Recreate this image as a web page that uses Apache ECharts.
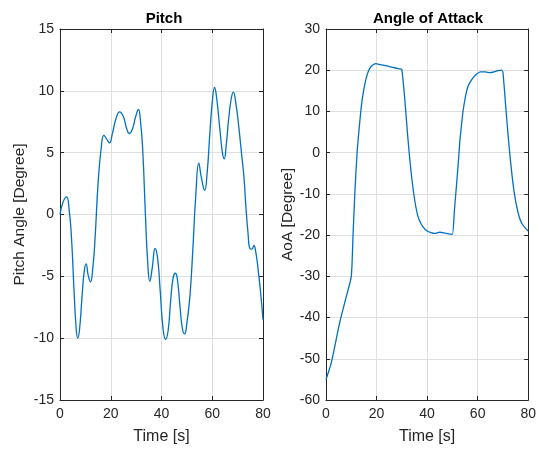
<!DOCTYPE html>
<html>
<head>
<meta charset="utf-8">
<title>Pitch and Angle of Attack</title>
<script src="https://cdn.jsdelivr.net/npm/echarts@6/dist/echarts.min.js"></script>
<style>
  html, body { margin: 0; padding: 0; background: #ffffff; }
  #chart { width: 539px; height: 453px; }
</style>
</head>
<body>
<div id="chart"></div>
<script>
// Time axis ticks (seconds)
const timeTicks = [0, 20, 40, 60, 80];

// Pitch angle [deg] sampled at the times below
const pitchTime = [
  0, 1.2, 2.6, 3.6, 4.5, 5.5, 6.3, 7.0, 7.7, 8.7, 9.6, 10.3, 11.1, 12.0, 12.9, 13.8,
  15.0, 16.3, 17.3, 18.4, 19.5, 20.6, 22.0, 23.5, 25.0, 26.2, 27.3, 28.5, 29.8, 30.9,
  31.7, 32.6, 33.7, 34.6, 35.4, 36.3, 37.5, 38.5, 39.5, 40.6, 41.6, 42.6, 43.6, 44.6,
  45.5, 46.4, 47.4, 48.3, 49.1, 50.0, 51.2, 52.3, 53.5, 54.7, 55.7, 57.0, 58.0, 59.0,
  60.1, 60.9, 61.8, 63.0, 64.0, 64.7, 65.5, 66.5, 67.5, 68.3, 69.3, 70.5, 71.5, 72.5,
  73.3, 74.1, 74.8, 75.6, 76.4, 77.2, 78.0, 79.0, 80.0
];
const pitchValue = [
  0.0, 1.0, 1.42, 0.4, -1.8, -6.0, -9.0, -10.0, -9.3, -6.6, -4.5, -4.0, -4.9, -5.45, -4.4, -2.0,
  2.5, 5.5, 6.4, 6.1, 5.8, 6.5, 7.7, 8.3, 7.9, 7.0, 6.55, 6.9, 7.9, 8.5,
  7.6, 5.2, -0.2, -4.0, -5.4, -4.4, -2.75, -3.6, -6.2, -9.2, -10.1, -9.4, -7.0, -5.1,
  -4.75, -5.5, -7.7, -9.3, -9.65, -8.8, -6.6, -3.0, 1.5, 4.15, 3.0, 1.96, 3.4, 6.4,
  9.3, 10.27, 9.3, 6.9, 5.0, 4.5, 5.6, 7.8, 9.4, 9.9, 9.0, 7.0, 5.0, 3.0,
  0.5, -1.5, -2.75, -2.8, -2.5, -3.1, -4.3, -6.2, -8.5
];

// Angle of attack [deg] sampled at the times below
const aoaTime = [
  0, 1.0, 2.2, 5.5, 8.0, 10.0, 10.7, 11.4, 12.3, 13.6, 14.3, 15.1, 15.9, 16.8, 17.8,
  18.8, 19.8, 21.0, 23.0, 25.0, 27.0, 29.5, 30.0, 31.2, 32.0, 32.8, 33.7, 34.5, 35.5,
  36.4, 37.4, 38.6, 40.0, 41.5, 43.0, 45.0, 47.0, 48.5, 50.0, 50.8, 51.7, 52.4, 53.0,
  54.0, 54.5, 55.3, 56.2, 57.2, 58.1, 59.5, 61.0, 63.0, 65.0, 66.5, 68.0, 69.5, 70.0,
  71.2, 72.0, 72.8, 73.6, 74.5, 75.5, 76.4, 77.5, 78.7, 80.0
];
const aoaValue = [
  -55.0, -53.2, -50.7, -41.0, -35.0, -30.0, -20.0, -10.0, 0.0, 9.0, 12.8, 15.8, 18.1, 19.8, 20.9,
  21.4, 21.6, 21.4, 21.2, 20.9, 20.6, 20.3, 20.2, 12.8, 6.5, 0.7, -5.0, -9.0, -13.0,
  -15.5, -17.0, -18.2, -19.0, -19.4, -19.6, -19.3, -19.5, -19.7, -19.8, -14.0, -7.4, -2.0, 3.1,
  9.0, 11.2, 14.0, 16.1, 17.3, 18.1, 19.0, 19.6, 19.6, 19.4, 19.6, 19.9, 20.0, 19.5,
  10.4, 4.5, -0.9, -5.5, -9.8, -13.2, -15.5, -17.2, -18.2, -19.0
];

const pitchTicks = { min: -15, max: 15, interval: 5 };
const aoaTicks = { min: -60, max: 30, interval: 10 };

const pairs = (xs, ys) => xs.map((x, i) => [x, ys[i]]);

const INK = '#262626';
const GRIDLINE = '#dfdfdf';
const LINE = '#0072BD';
const FONT = 'Liberation Sans, Arial, sans-serif';

const chart = echarts.init(document.getElementById('chart'), null, { renderer: 'canvas' });

const grids = [
  { left: 60, top: 29, width: 203, height: 371 },
  { left: 326, top: 29, width: 205, height: 371 }
];

function timeAxis(gridIndex, main) {
  return {
    type: 'value',
    gridIndex,
    position: main ? 'bottom' : 'top',
    min: timeTicks[0],
    max: timeTicks[timeTicks.length - 1],
    interval: timeTicks[1] - timeTicks[0],
    name: main ? 'Time [s]' : '',
    nameLocation: 'middle',
    nameGap: 29,
    nameTextStyle: { color: INK, fontSize: 16, fontFamily: FONT },
    axisLine: { show: true, onZero: false, lineStyle: { color: INK, width: 1 } },
    axisTick: { show: true, inside: true, length: 4, lineStyle: { color: INK } },
    axisLabel: { show: main, color: INK, fontSize: 14, fontFamily: FONT, margin: 7 },
    splitLine: { show: main, lineStyle: { color: GRIDLINE, width: 1 } }
  };
}

function valueAxis(gridIndex, ticks, main, name, gap) {
  return {
    type: 'value',
    gridIndex,
    position: main ? 'left' : 'right',
    min: ticks.min,
    max: ticks.max,
    interval: ticks.interval,
    name: main ? name : '',
    nameLocation: 'middle',
    nameGap: gap,
    nameTextStyle: { color: INK, fontSize: 15.5, fontFamily: FONT },
    axisLine: { show: true, onZero: false, lineStyle: { color: INK, width: 1 } },
    axisTick: { show: true, inside: true, length: 4, lineStyle: { color: INK } },
    axisLabel: { show: main, color: INK, fontSize: 14, fontFamily: FONT, margin: 6 },
    splitLine: { show: main, lineStyle: { color: GRIDLINE, width: 1 } }
  };
}

chart.setOption({
  animation: false,
  backgroundColor: '#ffffff',
  title: [
    { text: 'Pitch', left: 159, top: 6, textAlign: 'center',
      textStyle: { color: '#000', fontSize: 15, fontWeight: 'bold', fontFamily: FONT } },
    { text: 'Angle of Attack', left: 423, top: 6, textAlign: 'center',
      textStyle: { color: '#000', fontSize: 15, fontWeight: 'bold', fontFamily: FONT } }
  ],
  grid: grids,
  xAxis: [timeAxis(0, true), timeAxis(0, false), timeAxis(1, true), timeAxis(1, false)],
  yAxis: [
    valueAxis(0, pitchTicks, true, 'Pitch Angle [Degree]', 32),
    valueAxis(0, pitchTicks, false, '', 0),
    valueAxis(1, aoaTicks, true, 'AoA [Degree]', 30),
    valueAxis(1, aoaTicks, false, '', 0)
  ],
  series: [
    {
      type: 'line', xAxisIndex: 0, yAxisIndex: 0,
      data: pairs(pitchTime, pitchValue),
      smooth: 0.5, showSymbol: false,
      lineStyle: { color: LINE, width: 1.3 }
    },
    {
      type: 'line', xAxisIndex: 2, yAxisIndex: 2,
      data: pairs(aoaTime, aoaValue),
      smooth: 0.2, showSymbol: false,
      lineStyle: { color: LINE, width: 1.3 }
    }
  ]
});
</script>
</body>
</html>
